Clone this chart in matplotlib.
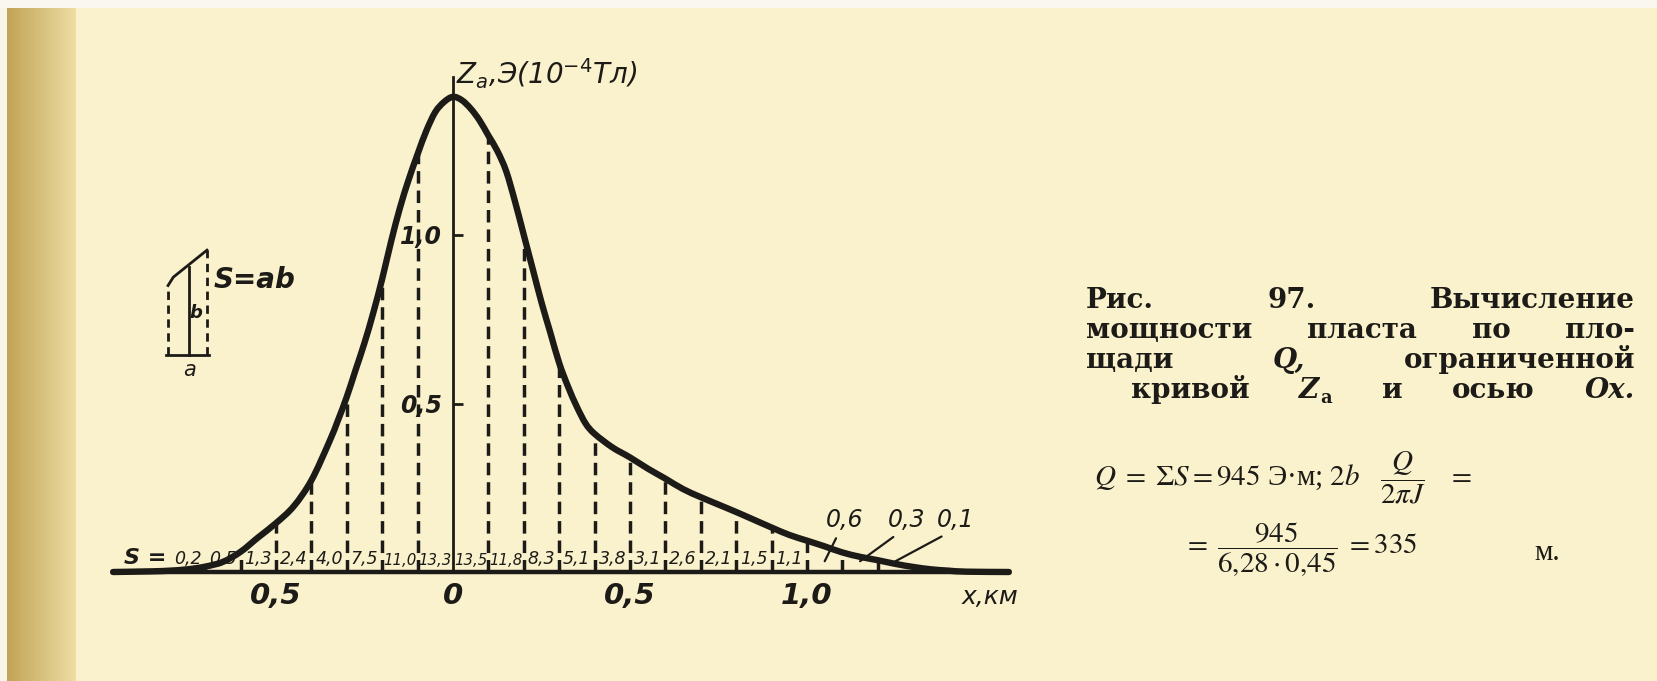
import numpy as np
import matplotlib
matplotlib.use('Agg')
import matplotlib.pyplot as plt
from matplotlib.path import Path
from matplotlib.patches import PathPatch

# кривая Z_a (x, км; Z, 10^-4 Тл)
x_km = [-0.96, -0.85, -0.8, -0.75, -0.7, -0.65, -0.6, -0.55, -0.5, -0.45,
        -0.4, -0.35, -0.325, -0.3, -0.275, -0.25, -0.225, -0.2, -0.175, -0.15,
        -0.125, -0.1, -0.075, -0.05, -0.025, 0.0, 0.025, 0.05, 0.075, 0.1,
        0.125, 0.15, 0.175, 0.2, 0.225, 0.25, 0.275, 0.3, 0.325, 0.35,
        0.375, 0.4, 0.45, 0.5, 0.55, 0.6, 0.65, 0.7, 0.75, 0.8,
        0.85, 0.9, 0.95, 1.0, 1.05, 1.1, 1.15, 1.2, 1.25, 1.3,
        1.35, 1.4, 1.45, 1.57]
z_a = [0.0, 0.002, 0.004, 0.008, 0.016, 0.03, 0.06, 0.103, 0.145, 0.195,
       0.272, 0.385, 0.45, 0.52, 0.60, 0.68, 0.77, 0.87, 0.98, 1.08,
       1.165, 1.24, 1.31, 1.365, 1.395, 1.41, 1.40, 1.375, 1.34, 1.295,
       1.25, 1.19, 1.10, 1.00, 0.90, 0.80, 0.71, 0.62, 0.55, 0.49,
       0.44, 0.41, 0.37, 0.34, 0.307, 0.277, 0.246, 0.222, 0.2, 0.178,
       0.155, 0.132, 0.11, 0.093, 0.076, 0.058, 0.045, 0.035, 0.024, 0.015,
       0.008, 0.004, 0.001, 0.0]

# площади полосок S (ширина полоски a = 0,1 км)
strip_start = -0.8
strip_width = 0.1
s_vals = [0.2, 0.5, 1.3, 2.4, 4.0, 7.5, 11.0, 13.3, 13.5, 11.8, 8.3,
          5.1, 3.8, 3.1, 2.6, 2.1, 1.5, 1.1, 0.6, 0.3, 0.1]
n_inline = 18  # последние три подписаны выносками

x_ticks = [-0.5, 0.0, 0.5, 1.0]
x_tick_labels = ['0,5', '0', '0,5', '1,0']
y_ticks = [0.5, 1.0]
y_tick_labels = ['0,5', '1,0']

W, H = 1657, 681
INK = '#1d1b17'
PAPER = np.array([0.982, 0.950, 0.805])

plt.rcParams['font.family'] = ['DejaVu Sans']

fig = plt.figure(figsize=(W / 100, H / 100), dpi=100)

# фон: пожелтевшая бумага, тёмный край слева
bg = fig.add_axes([0, 0, 1, 1], zorder=-5)
img = np.tile(PAPER, (H, W, 1))
dark = np.array([0.76, 0.64, 0.34])
mid = np.array([0.93, 0.87, 0.64])
for c in range(7, 76):
    t = (c - 7) / 68
    img[:, c] = dark * (1 - t) + mid * t
img[:, :7] = [0.97, 0.96, 0.92]
img[:8, :] = [0.98, 0.97, 0.94]
bg.imshow(img, aspect='auto', extent=[0, W, H, 0])
bg.axis('off')

# основная ось: 0 км -> 453 px, 354 px/км; Z=0 -> 572 px, 337 px на единицу
L, R, T, B = 100, 1040, 40, 640
ax = fig.add_axes([L / W, 1 - B / H, (R - L) / W, (B - T) / H])
ax.set_xlim((L - 453) / 354, (R - 453) / 354)
ax.set_ylim((572 - B) / 337, (572 - T) / 337)
ax.patch.set_alpha(0)


def smooth_path(xs, ys):
    # гладкая кривая через снятые точки (сплайн Катмулла-Рома в виде Безье)
    p = np.column_stack([xs, ys])
    verts, codes = [p[0]], [Path.MOVETO]
    for i in range(len(p) - 1):
        p0 = p[i - 1] if i > 0 else p[i]
        p3 = p[i + 2] if i + 2 < len(p) else p[i + 1]
        verts += [p[i] + (p[i + 1] - p0) / 6, p[i + 1] - (p3 - p[i]) / 6, p[i + 1]]
        codes += [Path.CURVE4] * 3
    return Path(verts, codes)


ax.add_patch(PathPatch(smooth_path(x_km, z_a), fill=False, ec=INK, lw=4.6,
                       capstyle='round', joinstyle='round', zorder=4))

# пунктирные ординаты на границах полосок
z_at = dict(zip(x_km, z_a))
edges = [round(strip_start + i * strip_width, 2) for i in range(len(s_vals) + 1)]
for e in edges[1:-1]:
    if abs(e) < 1e-9:
        continue
    ax.plot([e, e], [0, z_at[e]], color=INK, lw=2.5, ls=(0, (3.6, 2.0)),
            zorder=3)

# подписи S в полосках
centers = [(edges[i] + edges[i + 1]) / 2 for i in range(len(s_vals))]
for c, s in zip(centers[:n_inline], s_vals[:n_inline]):
    txt = f'{s:.1f}'.replace('.', ',')
    ax.text(c, 0.012, txt, ha='center', va='bottom',
            fontsize=10.8 if len(txt) > 3 else 12.5, style='italic',
            color=INK, zorder=5)
ax.text(edges[0] - 0.01, 0.012, 'S =', ha='right', va='bottom',
        fontsize=16, style='italic', weight='bold', color=INK)

# выноски для трёх последних полосок
label_x = [1.107, 1.28, 1.421]
for c, s, lx in zip(centers[n_inline:], s_vals[n_inline:], label_x):
    ax.annotate(f'{s:.1f}'.replace('.', ','), xy=(c, 0.032), xytext=(lx, 0.155),
                ha='center', va='center', fontsize=17, style='italic',
                color=INK,
                arrowprops=dict(arrowstyle='-', color=INK, lw=1.6,
                                relpos=(0.35, 0.0), shrinkA=3, shrinkB=0))

# оси
for side in ('top', 'right'):
    ax.spines[side].set_visible(False)
ax.spines['left'].set_position(('data', 0))
ax.spines['left'].set_bounds(0, 1.47)
ax.spines['left'].set_linewidth(2.0)
ax.spines['bottom'].set_position(('data', 0))
ax.spines['bottom'].set_bounds(-0.96, 1.57)
ax.spines['bottom'].set_linewidth(3.2)
for sp in ax.spines.values():
    sp.set_color(INK)

ax.set_xticks(x_ticks, labels=x_tick_labels)
ax.set_yticks(y_ticks, labels=y_tick_labels)
ax.tick_params(axis='x', length=0, pad=7, labelsize=21, colors=INK)
ax.tick_params(axis='y', direction='in', length=7, width=2, pad=8,
               labelsize=17, colors=INK)
for lbl in ax.get_xticklabels() + ax.get_yticklabels():
    lbl.set_style('italic')
    lbl.set_weight('bold')

ax.text(1.517, -0.074, 'x,км', ha='center', va='center', fontsize=18,
        style='italic', color=INK)
ax.text(0.008, 1.478, r'$Z_a$,Э(10$^{-4}$Тл)', ha='left', va='center',
        fontsize=20, style='italic', color=INK, math_fontfamily='dejavusans')

# схема полоски S = ab
ink_kw = dict(color=INK, lw=2.0)
ax.plot([-0.81, -0.69], [0.644, 0.644], **ink_kw)
ax.plot([-0.805, -0.805], [0.644, 0.85], ls=(0, (3, 2)), **ink_kw)
ax.plot([-0.695, -0.695], [0.644, 0.955], ls=(0, (3, 2)), **ink_kw)
ax.plot([-0.805, -0.79, -0.695], [0.85, 0.875, 0.955], **ink_kw)
ax.plot([-0.745, -0.745], [0.644, 0.905], **ink_kw)
ax.text(-0.727, 0.77, 'b', ha='center', va='center', fontsize=13,
        style='italic', weight='bold', color=INK)
ax.text(-0.745, 0.60, 'a', ha='center', va='center', fontsize=15,
        style='italic', color=INK)
ax.text(-0.56, 0.865, 'S=ab', ha='center', va='center', fontsize=20,
        style='italic', weight='bold', color=INK)

# подпись к рисунку
cap_kw = dict(family='DejaVu Serif', weight='bold', fontsize=20,
              color=INK, va='baseline')
renderer = fig.canvas.get_renderer()


def justify(words, y_px, x0_px, x1_px):
    items = []
    for w, italic, sub in words:
        t = fig.text(0, 1 - y_px / H, w, style='italic' if italic else 'normal',
                     **cap_kw)
        s = None
        if sub:
            s = fig.text(0, 1 - (y_px + 5) / H, sub, family='DejaVu Serif',
                         weight='bold', fontsize=13, color=INK, va='baseline')
        items.append((t, s))
    widths = []
    for t, s in items:
        wd = t.get_window_extent(renderer).width
        if s is not None:
            wd += s.get_window_extent(renderer).width + 1
        widths.append(wd)
    gap = (x1_px - x0_px - sum(widths)) / (len(items) - 1)
    x = x0_px
    for (t, s), wd in zip(items, widths):
        t.set_x(x / W)
        if s is not None:
            s.set_x((x + t.get_window_extent(renderer).width + 1) / W)
        x += wd + gap


justify([('Рис.', False, None), ('97.', False, None), ('Вычисление', False, None)],
        308, 1086, 1635)
justify([('мощности', False, None), ('пласта', False, None),
         ('по', False, None), ('пло-', False, None)], 338, 1086, 1635)
justify([('щади', False, None), ('Q,', True, None), ('ограниченной', False, None)],
        368, 1086, 1635)
justify([('кривой', False, None), ('Z', True, 'a'), ('и', False, None),
         ('осью', False, None), ('Ox.', True, None)], 398, 1131, 1635)

f_kw = dict(family='Liberation Serif', fontsize=21, color=INK,
            math_fontfamily='stix', va='center')
fig.text(1094 / W, 1 - 478 / H,
         r'$Q\; = \;\Sigma S{=}945$ Э·м; $2b\quad\dfrac{Q}{2\pi J}\quad =$', **f_kw)
fig.text(1183 / W, 1 - 549 / H,
         r'$= \;\dfrac{945}{6{,}28\cdot 0{,}45}\; = 335$', **f_kw)
fig.text(1534 / W, 1 - 553 / H, 'м.', **f_kw)

fig.savefig('out.png', dpi=100)
